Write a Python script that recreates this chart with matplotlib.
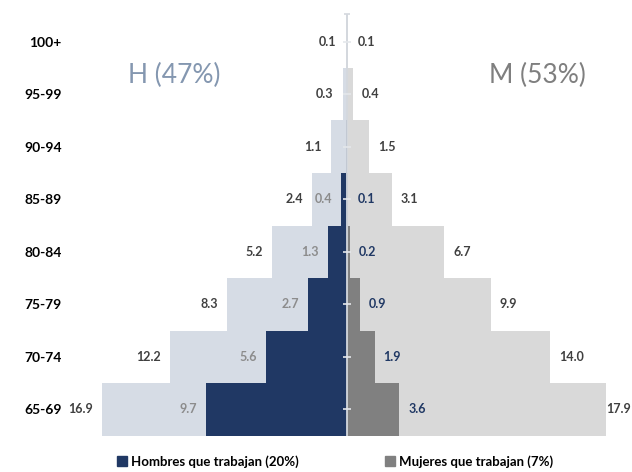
import matplotlib.pyplot as plt
from matplotlib.patches import Patch

plt.rcParams['font.family'] = ['Lato', 'DejaVu Sans']

# data (percent of population 65+)
ages = ['65-69', '70-74', '75-79', '80-84', '85-89', '90-94', '95-99', '100+']
men_total = [16.9, 12.2, 8.3, 5.2, 2.4, 1.1, 0.3, 0.1]
women_total = [17.9, 14.0, 9.9, 6.7, 3.1, 1.5, 0.4, 0.1]
men_work = [9.7, 5.6, 2.7, 1.3, 0.4, 0.1, 0.0, 0.0]
women_work = [3.6, 1.9, 0.9, 0.2, 0.1, 0.0, 0.0, 0.0]
n_work_labels = 5  # working labels shown for 65-69 .. 85-89

c_men_tot = '#d6dce5'
c_wom_tot = '#d9d9d9'
c_men_work = '#203864'
c_wom_work = '#808080'
c_lab = '#404040'

fig = plt.figure(figsize=(6.32, 4.72), dpi=100)
ax = fig.add_axes([0.1187, 0.0773, 0.8813, 0.893])

y = list(range(len(ages)))
ax.barh(y, [-v for v in men_total], height=1.0, color=c_men_tot, zorder=1)
ax.barh(y, women_total, height=1.0, color=c_wom_tot, zorder=1)
ax.barh(y, [-v for v in men_work], height=1.0, color=c_men_work, zorder=2)
ax.barh(y, women_work, height=1.0, color=c_wom_work, zorder=2)

xmin, xmax = -18.76, 19.66
ax.set_xlim(xmin, xmax)
ax.set_ylim(-0.5, 7.528)

pad = 0.62
fs = 9
for i in y:
    ax.text(-men_total[i] - pad, i, f'{men_total[i]:.1f}', ha='right', va='center',
            fontsize=fs, fontweight='bold', color=c_lab)
    xr = min(women_total[i] + pad, xmax - 1.8)
    ax.text(xr, i, f'{women_total[i]:.1f}', ha='left', va='center',
            fontsize=fs, fontweight='bold', color=c_lab)
    if i < n_work_labels:
        ax.text(-men_work[i] - pad, i, f'{men_work[i]:.1f}', ha='right', va='center',
                fontsize=fs, fontweight='bold', color='#8c8c8c')
        ax.text(women_work[i] + pad, i, f'{women_work[i]:.1f}', ha='left', va='center',
                fontsize=fs, fontweight='bold', color=c_men_work)

# central axis with small ticks
ax.axvline(0, color='#d4d8de', lw=1.3, zorder=3)
ax.plot([0] * len(y), y, ls='none', marker='_', ms=6, mew=1.2, color='#e4e7eb', zorder=4)
ax.plot([0], [7.528], ls='none', marker='_', ms=5, mew=1.2, color='#d4d8de', zorder=4, clip_on=False)

ax.set_yticks(y)
ax.set_yticklabels(ages, fontsize=10, fontweight='bold', color='black')
ax.tick_params(axis='y', length=0, pad=9.5)
ax.set_xticks([])
for s in ax.spines.values():
    s.set_visible(False)

fig.text(0.275, 0.841, 'H (47%)', ha='center', va='center', fontsize=19, color='#8497b0')
fig.text(0.85, 0.841, 'M (53%)', ha='center', va='center', fontsize=19, color='#7f7f7f')

handles = [Patch(color=c_men_work, label='Hombres que trabajan (20%)'),
           Patch(color=c_wom_work, label='Mujeres que trabajan (7%)')]
fig.legend(handles=handles, loc='center', bbox_to_anchor=(0.53, 0.022), ncol=2,
           frameon=False, handlelength=0.75, handleheight=0.75, handletextpad=0.3,
           columnspacing=6.5, prop={'weight': 'bold', 'size': 9.5})

fig.savefig('out.png', dpi=100)
